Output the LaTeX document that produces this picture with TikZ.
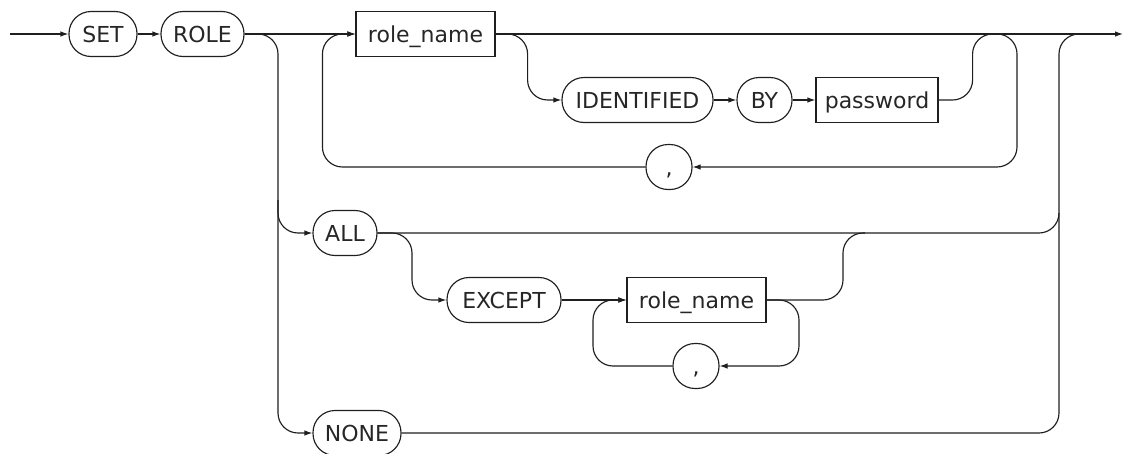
\documentclass[tikz,border=0pt]{standalone}
\usepackage{fontspec}
\setmainfont{DejaVu Sans}
\usetikzlibrary{arrows.meta}
\begin{document}
\begin{tikzpicture}[x=1pt,y=-1pt,
  line width=1.15pt, color=black!88,
  term/.style={draw, rounded corners=22pt, minimum height=45pt, inner sep=0pt,
    text height=16pt, text depth=0pt, font=\fontsize{22}{26}\selectfont, text=black!85},
  nonterm/.style={draw, rectangle, minimum height=45pt, inner sep=0pt,
    text height=16pt, text depth=0pt, font=\fontsize{22}{26}\selectfont, text=black!85},
  flow/.style={rounded corners=20pt},
  arr/.style={-{Latex[length=8pt,width=5.5pt]}}
]
\useasboundingbox (0,0) rectangle (1125,453);

% entry and exit of the main line
\coordinate (start) at (10,34);
\coordinate (end) at (1123,34);

% keywords and identifiers
\node[term, minimum width=68pt]     (set)    at (103,34)   {SET};
\node[term, minimum width=83pt]     (role)   at (202.5,34) {ROLE};
\node[nonterm, minimum width=139pt] (rn1)    at (425.5,34) {role\_name};
\node[term, minimum width=151pt]    (ident)  at (637.5,100) {IDENTIFIED};
\node[term, minimum width=55pt]     (by)     at (764.5,100) {BY};
\node[nonterm, minimum width=122pt] (pw)     at (877,100)  {password};
\node[term, minimum width=46pt]     (c1)     at (669,167)  {,};
\node[term, minimum width=64pt]     (all)    at (345,233)  {ALL};
\node[term, minimum width=114pt]    (except) at (504,300)  {EXCEPT};
\node[nonterm, minimum width=139pt] (rn2)    at (696.5,300) {role\_name};
\node[term, minimum width=46pt]     (c2)     at (696,366)  {,};
\node[term, minimum width=88pt]     (none)   at (357,433)  {NONE};

% junction points on the rails
\coordinate (j1) at (994,34);
\coordinate (j2) at (1081,34);
\coordinate (j3) at (865,233);

% main line
\draw[arr] (start) -- (set);
\draw[arr] (set) -- (role);
\draw[arr] (role) -- (rn1);
\draw[arr] (rn1.east) -- (end);

% optional IDENTIFIED BY password
\draw[arr, flow] (rn1.east) -- ++(32,0) |- (ident.west);
\draw[arr] (ident) -- (by);
\draw[arr] (by) -- (pw);
\draw[flow] (pw.east) -- ++(34,0) |- (j1);

% repetition with comma
\draw[arr, flow] ([xshift=1pt]j1) -- ++(22,0) |- (c1.east);
\draw[arr, flow] (c1.west) -| ([xshift=-33pt]rn1.west) -- (rn1.west);

% alternatives ALL / NONE
\draw[arr, flow] (role.east) -- (278,34) -- (278,433) -- (none.west);
\draw[arr, flow] (278,200) |- (all.west);
\draw[flow] (all.east) -- (1059,233) -- (1059,213);
\draw[flow] (none.east) -- (1059,433) -- (1059,34) -- (j2);

% ALL EXCEPT role_name list
\draw[arr, flow] (all.east) -- (412,233) |- (except.west);
\draw[arr] (except) -- (rn2);
\draw[flow] (rn2.east) -- (843,300) |- (j3);
\draw[arr, flow] (rn2.east) -- (799,300) |- (c2.east);
\draw[arr, flow] (c2.west) -| (593,300) -- (rn2.west);
\end{tikzpicture}
\end{document}
